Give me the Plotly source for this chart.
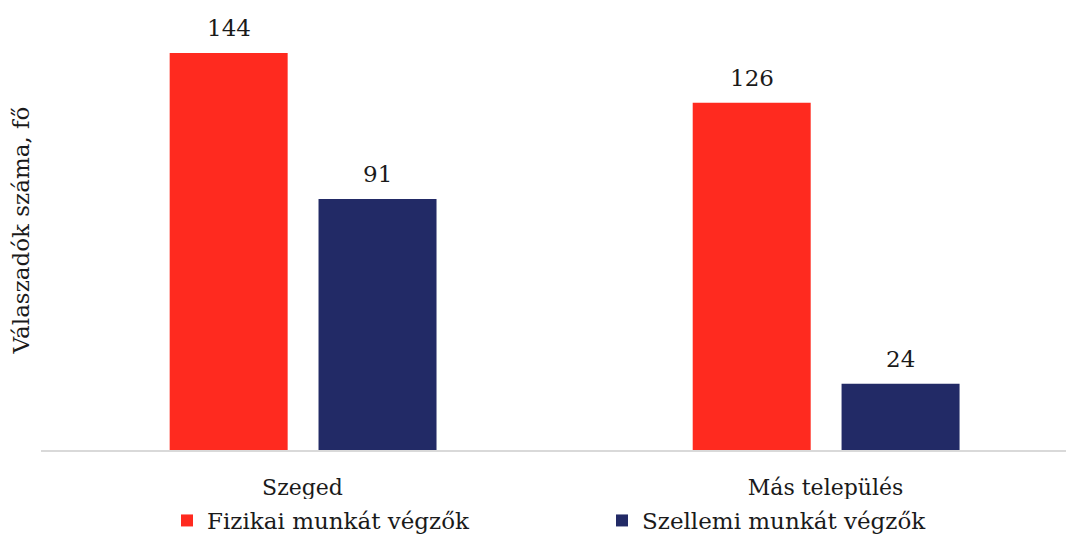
import plotly.graph_objects as go

categories = ["Szeged", "Más település"]
series_names = ["Fizikai munkát végzők", "Szellemi munkát végzők"]
fizikai = [144, 126]
szellemi = [91, 24]
colors = ["#FF2A1F", "#222A66"]

FONT = "DejaVu Serif"
BAR_W = 0.2256
offsets = [-0.254, 0.0306]

x_idx = list(range(len(categories)))
fig = go.Figure()
for name, vals, col, off in zip(series_names, [fizikai, szellemi], colors, offsets):
    fig.add_trace(go.Bar(
        x=x_idx, y=vals, name=name, marker=dict(color=col, line=dict(width=0)),
        width=BAR_W, offset=off,
    ))
    for xi, v in zip(x_idx, vals):
        fig.add_annotation(x=xi + off + BAR_W / 2, y=v, text=str(v), showarrow=False,
                           yanchor="bottom", yshift=10,
                           font=dict(family=FONT, size=23, color="#1a1a1a"))

# page body has an 8px margin, so the figure is sized to fit the window
fig.update_layout(
    width=1066, height=534,
    margin=dict(l=33, r=0, t=2, b=92),
    plot_bgcolor="white", paper_bgcolor="white",
    barmode="overlay",
    font=dict(family=FONT, size=22, color="#1a1a1a"),
    showlegend=True,
    legend=dict(orientation="h", x=0.122, xanchor="left", yref="container", y=-0.027, yanchor="bottom",
                font=dict(family=FONT, size=23, color="#1a1a1a"),
                entrywidth=390, entrywidthmode="pixels"),
    xaxis=dict(range=[-0.5, 1.475], tickmode="array", tickvals=x_idx, ticktext=categories,
               showgrid=False, zeroline=False, showline=True, linecolor="#d9d9d9", linewidth=1.5,
               automargin=False,
               ticks="", ticklabelstandoff=17, tickfont=dict(family=FONT, size=22, color="#1a1a1a")),
    yaxis=dict(range=[0, 159.6], showgrid=False, zeroline=False, showticklabels=False,
               showline=False, ticks="", automargin=False,
               title=dict(text="Válaszadók száma, fő", standoff=5,
                          font=dict(family=FONT, size=23, color="#1a1a1a"))),
)
fig.write_html("out.html")
